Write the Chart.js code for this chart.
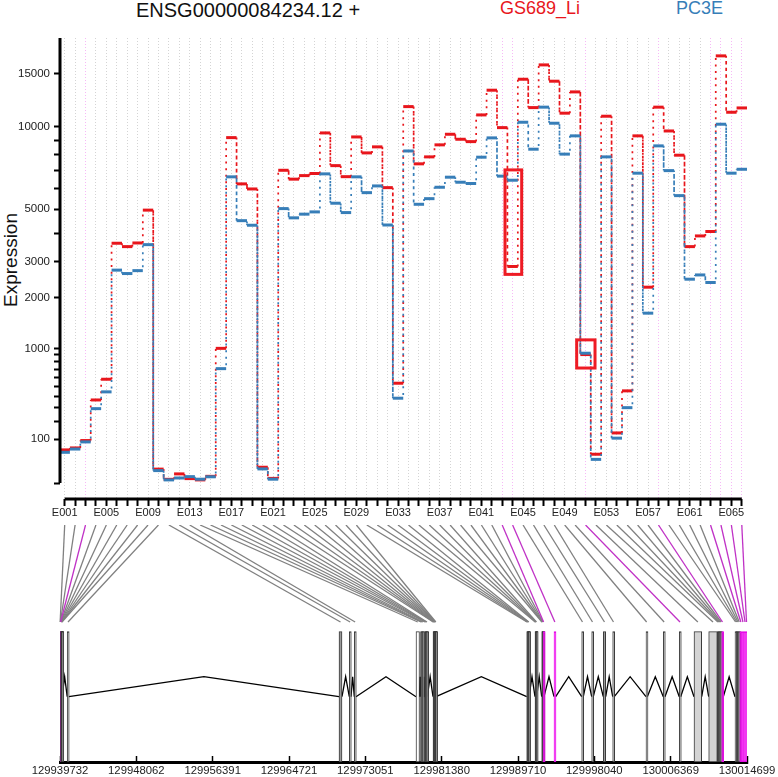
<!DOCTYPE html>
<html>
<head>
<meta charset="utf-8">
<title>ENSG00000084234.12 exon expression</title>
<script src="https://cdn.jsdelivr.net/npm/chart.js@4"></script>
<style>
  html, body { margin: 0; padding: 0; background: #fff; }
  #page { position: relative; width: 778px; height: 777px; overflow: hidden;
          font-family: "Liberation Sans", Arial, sans-serif; }
  .lbl { position: absolute; white-space: nowrap; }
  #gene { left: 136px; top: 0px; font-size: 20px; line-height: 20px; color: #111; }
  #s1 { left: 500px; top: -1px; font-size: 18px; line-height: 18px; color: #e8161c; }
  #s2 { left: 676px; top: -1px; font-size: 18px; line-height: 18px; color: #377eb8; }
  #ylab { left: 10px; top: 260px; font-size: 19px; line-height: 19px; color: #111;
          transform: translate(-50%, -50%) rotate(-90deg); }
  #topWrap { position: absolute; left: 0; top: 0; width: 778px; height: 525px; }
  #botWrap { position: absolute; left: 0; top: 525px; width: 778px; height: 252px; }
</style>
</head>
<body>
<div id="page">
  <div class="lbl" id="gene">ENSG00000084234.12 +</div>
  <div class="lbl" id="s1">GS689_Li</div>
  <div class="lbl" id="s2">PC3E</div>
  <div class="lbl" id="ylab">Expression</div>
  <div id="topWrap"><canvas id="expr"></canvas></div>
  <div id="botWrap"><canvas id="model"></canvas></div>
</div>
<script>
// ---- data ----
const EXONS = Array.from({ length: 66 }, (_, i) => 'E' + String(i + 1).padStart(3, '0'));

// normalised expression per exon bin
const GS689_LI = [
  57, 64, 94, 366, 579, 3620, 3500, 3630, 4960, 10,
  0.7, 4.3, 1.0, 0.5, 2.3, 1000, 9190, 6260, 5990, 12.9,
  1.1, 7030, 6520, 6720, 6840, 9540, 7310, 6660, 9240, 8120,
  8530, 6060, 534, 11720, 7420, 7860, 8670, 9440, 9070, 8900,
  10990, 13280, 9950, 2850, 14420, 11630, 16040, 14210, 11140, 13110,
  905, 43, 10880, 131, 453, 9320, 2265, 11670, 9690, 7970,
  3500, 3890, 4060, 17140, 11220, 11600,
];
const PC3E = [
  49, 60, 88, 292, 443, 2740, 2640, 2725, 3570, 8,
  0.5, 1.3, 2.1, 0.75, 2.0, 709, 6650, 4500, 4310, 10.3,
  0.75, 5030, 4620, 4780, 4880, 6820, 5280, 4850, 6650, 5800,
  6150, 4320, 382, 8250, 5230, 5500, 6080, 6630, 6350, 6280,
  7840, 9170, 6690, 6460, 10380, 8370, 11670, 10300, 8040, 9320,
  925, 29, 7860, 105, 300, 6860, 1650, 8600, 7010, 5650,
  2480, 2600, 2390, 10220, 6860, 7090,
];

// novel (annotation-free) exon bins: magenta links and grid lines
const NOVEL_EXONS = [3, 43, 44, 51, 58, 63, 64, 65, 66];
const MAGENTA_BARS = [3, 43, 44, 58, 63, 64, 65, 66];   // filled magenta in the gene model
const OPEN_EXONS = [14];          // drawn unfilled in the gene model
const LIGHT_EXONS = [52, 53];     // wide light grey boxes

// genomic extent of every exon bin
const EXON_START = [
  129939732, 129939765, 129939787, 129939808, 129939830, 129939852, 129939874, 129939896, 129939928, 129940518,
  129970177, 129971301, 129971846, 129978579, 129979071, 129979180, 129979289, 129979507, 129979594, 129979671,
  129979748, 129980435, 129980478, 129980522, 129980566, 129980609, 129980653, 129980685, 129980718, 129990659,
  129990714, 129990768, 129990823, 129990867, 129991565, 129991609, 129991652, 129991696, 129992297, 129992340,
  129992384, 129992428, 129992460, 129993638, 129996661, 129997752, 129999017, 130000043, 130003677, 130005565,
  130007310, 130008915, 130010519, 130011458, 130011578, 130011698, 130011818, 130011938, 130013389, 130013520,
  130013651, 130013782, 130013913, 130014142, 130014372, 130014590,
];
const EXON_END = [
  129939765, 129939787, 129939808, 129939830, 129939852, 129939874, 129939896, 129939928, 129939961, 129940692,
  129970504, 129971487, 129972032, 129978962, 129979180, 129979289, 129979398, 129979594, 129979671, 129979748,
  129979813, 129980478, 129980522, 129980566, 129980609, 129980653, 129980685, 129980718, 129980762, 129990714,
  129990768, 129990823, 129990867, 129990910, 129991609, 129991652, 129991696, 129991751, 129992340, 129992384,
  129992428, 129992460, 129992547, 129993824, 129996836, 129997927, 129999279, 130000217, 130003819, 130005750,
  130007463, 130009755, 130011458, 130011578, 130011698, 130011818, 130011938, 130012112, 130013520, 130013651,
  130013782, 130013913, 130014142, 130014372, 130014590, 130014699,
];

// axis ticks
const Y_TICKS = [0, 100, 200, 300, 400, 500, 600, 700, 800, 900, 1000, 2000, 3000, 4000,
                 5000, 6000, 7000, 8000, 9000, 10000, 15000];
const Y_TICK_LABELS = ['', '100', '', '', '', '', '', '', '', '', '1000', '2000', '3000', '',
                       '5000', '', '', '', '', '10000', '15000'];
const GENOME_TICKS = [129939732, 129948062, 129956391, 129964721, 129973051,
                      129981380, 129989710, 129998040, 130006369, 130014699];

// red boxes marking two exons (exon range, expression range)
const MARK_FROM = [43.27, 50.15];
const MARK_TO = [44.87, 51.91];
const MARK_LOW = [2616, 717];
const MARK_HIGH = [7052, 1139];

// ---- styling / layout ----
const RED = '#e8161c';
const BLUE = '#377eb8';
const MAGENTA = '#c032c6';
const GRID_GREY = '#d4d4d4';
const GRID_PINK = '#f6b9f6';
const VST_K = 5000;               // variance-stabilising axis: asinh(sqrt(v / k))
const tf = v => Math.asinh(Math.sqrt(v / VST_K));
const Y_MIN = -0.0515, Y_MAX = 1.4327;
const EX_MIN = 0.55, EX_MAX = 66.5;
const G_MIN = GENOME_TICKS[0], G_MAX = GENOME_TICKS[GENOME_TICKS.length - 1];
const MODEL_H = 130.3, INTRON_BASE = 65.3, INTRON_PEAK = 85.3;
const LINK_TOP = 237, LINK_BOTTOM = 140;

Chart.defaults.font.family = '"Liberation Sans", Arial, sans-serif';
Chart.defaults.animation = false;

const isNovel = n => NOVEL_EXONS.includes(n);

function stepPoints(vals) {
  const pts = [];
  vals.forEach((v, i) => {
    pts.push({ x: i + 0.5, y: tf(v) }, { x: i + 1.5, y: tf(v) });
  });
  return pts;
}
const vertical = c => c.p0.parsed.x === c.p1.parsed.x;

function exprDataset(label, vals, color, order, dashOffset) {
  return {
    label,
    data: stepPoints(vals),
    borderColor: color,
    borderWidth: 3,
    pointRadius: 0,
    tension: 0,
    order,
    segment: {
      borderWidth: c => vertical(c) ? 1.7 : 3,
      borderDash: c => vertical(c) ? [2, 4.6] : [],
      borderDashOffset: c => vertical(c) ? dashOffset : 0,
    },
  };
}

const frame = {
  id: 'frame',
  afterDatasetsDraw(chart) {
    const { ctx, chartArea, scales: { x, y } } = chart;
    ctx.save();
    ctx.strokeStyle = '#000';
    ctx.lineWidth = 3;
    ctx.beginPath();
    ctx.moveTo(chartArea.left, y.getPixelForValue(tf(0)));
    ctx.lineTo(chartArea.left, chartArea.top);
    ctx.moveTo(x.getPixelForValue(1), chartArea.bottom);
    ctx.lineTo(x.getPixelForValue(EXONS.length), chartArea.bottom);
    ctx.stroke();

    ctx.strokeStyle = '#ee1b24';
    MARK_FROM.forEach((from, i) => {
      const x0 = x.getPixelForValue(from), x1 = x.getPixelForValue(MARK_TO[i]);
      const y0 = y.getPixelForValue(tf(MARK_HIGH[i])), y1 = y.getPixelForValue(tf(MARK_LOW[i]));
      ctx.strokeRect(x0, y0, x1 - x0, y1 - y0);
    });
    ctx.restore();
  },
};

new Chart(document.getElementById('expr'), {
  type: 'line',
  data: {
    datasets: [
      exprDataset('PC3E', PC3E, BLUE, 0, 3.3),
      exprDataset('GS689_Li', GS689_LI, RED, 1, 0),
    ],
  },
  options: {
    responsive: true,
    maintainAspectRatio: false,
    layout: { padding: { top: 38, right: 31, bottom: 0, left: 0 } },
    plugins: { legend: { display: false }, tooltip: { enabled: false } },
    scales: {
      x: {
        type: 'linear', min: EX_MIN, max: EX_MAX, bounds: 'data', offset: false,
        border: { display: false, dash: [1, 2] },
        grid: {
          color: c => (c.tick && isNovel(c.tick.value)) ? GRID_PINK : GRID_GREY,
          lineWidth: 1, tickLength: 7, tickWidth: 2, tickColor: '#000', tickBorderDash: [],
        },
        ticks: {
          autoSkip: false, maxRotation: 0, padding: 0, color: '#222', font: { size: 11 },
          callback: v => (v - 1) % 4 === 0 ? EXONS[v - 1] : '',
        },
        afterBuildTicks: s => { s.ticks = EXONS.map((_, i) => ({ value: i + 1 })); },
        afterFit: s => { s.height = 26; s.paddingLeft = 0; s.paddingRight = 0; },
      },
      y: {
        type: 'linear', min: Y_MIN, max: Y_MAX, bounds: 'data',
        border: { display: false },
        grid: { drawOnChartArea: false, tickLength: 6, tickWidth: 2, tickColor: '#000', color: '#000' },
        ticks: {
          autoSkip: false, padding: 4, color: '#222', font: { size: 11.5 },
          callback: (v, i) => Y_TICK_LABELS[i],
        },
        afterBuildTicks: s => { s.ticks = Y_TICKS.map(v => ({ value: tf(v) })); },
        afterFit: s => { s.width = 60; s.paddingTop = 0; s.paddingBottom = 0; },
      },
    },
  },
  plugins: [frame],
});

// ---- gene model ----
const introns = [];
for (let i = 0; i < EXONS.length - 1; i++) {
  const a = EXON_END[i], b = EXON_START[i + 1];
  if (b > a) {
    introns.push({ x: a, y: INTRON_BASE }, { x: (a + b) / 2, y: INTRON_PEAK },
                 { x: b, y: INTRON_BASE }, { x: b, y: null });
  }
}
const fills = EXONS.map((_, i) => {
  const n = i + 1;
  if (MAGENTA_BARS.includes(n)) return '#ff00ff';
  if (OPEN_EXONS.includes(n)) return '#ffffff';
  if (LIGHT_EXONS.includes(n)) return '#d3d3d3';
  return '#9a9a9a';
});
const edges = EXONS.map((_, i) => MAGENTA_BARS.includes(i + 1) ? '#e010e0' : '#3a3a3a');

const links = {
  id: 'links',
  afterDatasetsDraw(chart) {
    const { ctx, scales: { x, xe, y } } = chart;
    const yTop = y.getPixelForValue(LINK_TOP), yBot = y.getPixelForValue(LINK_BOTTOM);
    ctx.save();
    ctx.lineWidth = 1.3;
    [false, true].forEach(novelPass => {
      EXONS.forEach((_, i) => {
        if (isNovel(i + 1) !== novelPass) return;
        ctx.strokeStyle = novelPass ? MAGENTA : '#808080';
        ctx.beginPath();
        ctx.moveTo(xe.getPixelForValue(i + 1), yTop);
        ctx.lineTo(x.getPixelForValue((EXON_START[i] + EXON_END[i]) / 2), yBot);
        ctx.stroke();
      });
    });
    ctx.restore();
  },
};

new Chart(document.getElementById('model'), {
  type: 'bar',
  data: {
    datasets: [
      {
        type: 'bar',
        indexAxis: 'y',
        xAxisID: 'x', yAxisID: 'y',
        data: EXONS.map((_, i) => ({ x: [EXON_START[i], EXON_END[i]], y: MODEL_H / 2 })),
        backgroundColor: fills,
        borderColor: edges,
        borderWidth: 1,
        borderSkipped: false,
        barThickness: MODEL_H,
        minBarLength: 2,
        grouped: false,
        order: 0,
      },
      {
        type: 'line',
        xAxisID: 'x', yAxisID: 'y',
        data: introns,
        borderColor: '#000',
        borderWidth: 1.3,
        pointRadius: 0,
        tension: 0,
        spanGaps: false,
        order: 1,
      },
    ],
  },
  options: {
    responsive: true,
    maintainAspectRatio: false,
    layout: { padding: { top: 0, right: 31, bottom: 0, left: 60 } },
    plugins: { legend: { display: false }, tooltip: { enabled: false } },
    scales: {
      x: {
        type: 'linear', position: 'bottom', min: G_MIN, max: G_MAX, bounds: 'data', offset: false,
        border: { display: true, color: '#000', width: 3 },
        grid: { drawOnChartArea: false, offset: false, tickLength: -6, tickWidth: 1.5, tickColor: '#000' },
        ticks: {
          autoSkip: false, maxRotation: 0, padding: 8, color: '#222', font: { size: 11.3 },
          callback: v => String(v),
        },
        afterBuildTicks: s => { s.ticks = GENOME_TICKS.map(v => ({ value: v })); },
        afterFit: s => { s.height = 15; s.paddingLeft = 0; s.paddingRight = 0; },
      },
      xe: {
        type: 'linear', axis: 'x', display: false, min: EX_MIN, max: EX_MAX, offset: false,
        afterFit: s => { s.paddingLeft = 0; s.paddingRight = 0; },
      },
      y: { type: 'linear', display: false, min: 0, max: LINK_TOP, offset: false },
    },
  },
  plugins: [links],
});
</script>
</body>
</html>
